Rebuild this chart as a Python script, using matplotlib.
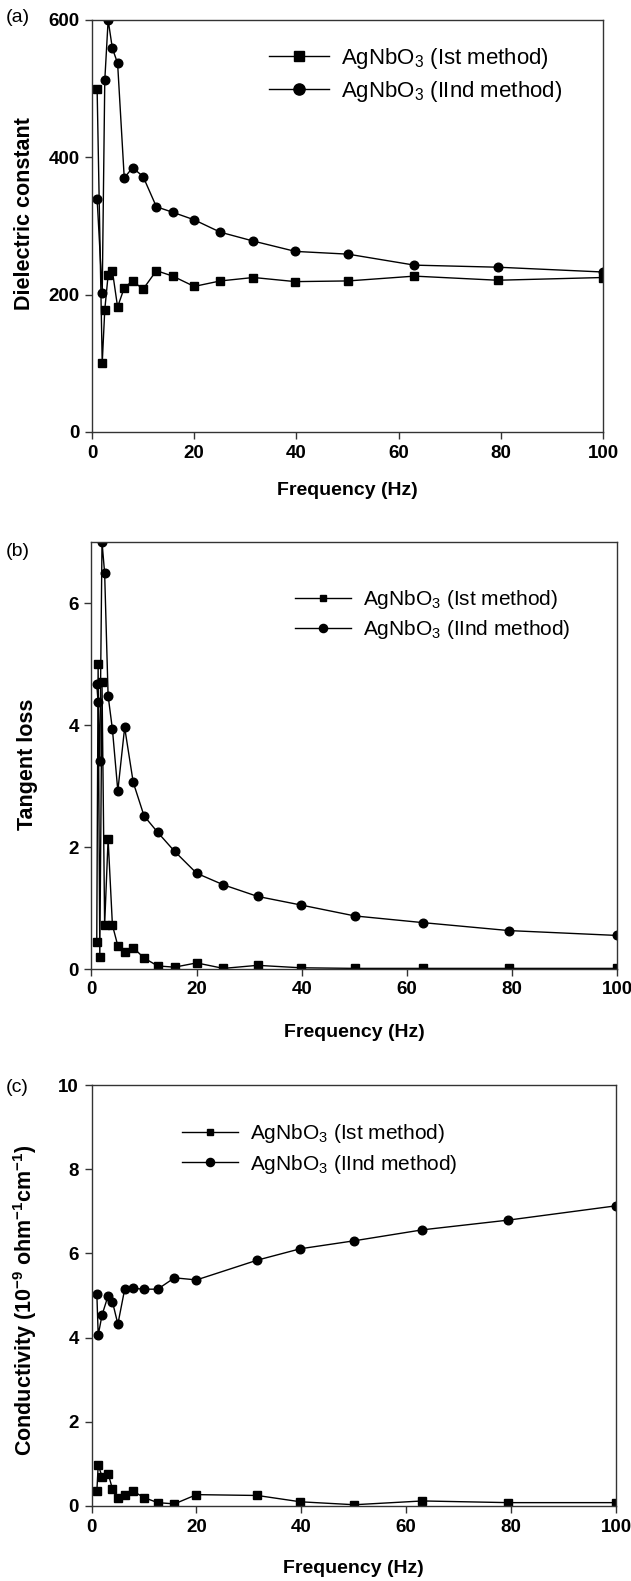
import matplotlib
matplotlib.use("Agg")
import matplotlib.pyplot as plt

plt.rcParams['font.family'] = ['Liberation Sans', 'DejaVu Sans']
plt.rcParams['mathtext.default'] = 'regular'

# (a) dielectric constant
freq_a = [1, 2, 2.5, 3.16, 3.98, 5.01, 6.31, 7.94, 10, 12.6, 15.8, 20, 25.1,
          31.6, 39.8, 50.1, 63.1, 79.4, 100]
diel_1st = [500, 100, 178, 229, 235, 182, 210, 220, 208, 235, 227, 212, 220,
            225, 219, 220, 227, 221, 225]
diel_2nd = [340, 202, 512, 600, 559, 537, 370, 385, 372, 328, 320, 309, 291,
            278, 263, 259, 243, 240, 233]

# (b) tangent loss
freq_b = [1, 1.26, 1.58, 2, 2.5, 3.16, 3.98, 5.01, 6.31, 7.94, 10, 12.6, 15.8,
          20, 25.1, 31.6, 39.8, 50.1, 63.1, 79.4, 100]
tan_1st = [0.44, 5.0, 0.2, 4.7, 0.72, 2.13, 0.72, 0.38, 0.28, 0.35, 0.18, 0.05,
           0.03, 0.1, 0.01, 0.06, 0.02, 0.01, 0.01, 0.01, 0.01]
tan_2nd = [4.67, 4.37, 3.41, 7.0, 6.49, 4.48, 3.93, 2.92, 3.96, 3.06, 2.51, 2.24,
           1.93, 1.57, 1.38, 1.19, 1.05, 0.87, 0.76, 0.63, 0.55]

# (c) conductivity
freq_c = [1, 1.26, 2, 3.16, 3.98, 5.01, 6.31, 7.94, 10, 12.6, 15.8, 20, 31.6,
          39.8, 50.1, 63.1, 79.4, 100]
cond_1st = [0.35, 0.97, 0.7, 0.77, 0.4, 0.2, 0.25, 0.35, 0.2, 0.08, 0.05, 0.27,
            0.25, 0.1, 0.03, 0.12, 0.08, 0.08]
cond_2nd = [5.04, 4.06, 4.54, 5.0, 4.85, 4.32, 5.15, 5.17, 5.15, 5.15, 5.42, 5.37,
            5.84, 6.11, 6.30, 6.56, 6.79, 7.13]

labels = ['AgNbO$_3$ (Ist method)', 'AgNbO$_3$ (IInd method)']
W, H = 631, 1581


def make_axes(fig, left, right, top, bottom):
    return fig.add_axes([left / W, 1 - bottom / H, (right - left) / W,
                         (bottom - top) / H])


def style_axes(ax, ylim, yticks, ylabel, ylab_x, ylab_y, xlab_y, leg_xy,
               leg_size, mscale):
    ax.set_xlim(0, 100)
    ax.set_ylim(*ylim)
    ax.set_xticks(range(0, 101, 20))
    ax.set_yticks(yticks)
    for s in ax.spines.values():
        s.set_linewidth(1.0)
        s.set_color('#333333')
    ax.tick_params(direction='out', length=5, width=1.0, color='#333333',
                   labelsize=13.5, pad=4, top=False, right=False)
    for lab in ax.get_xticklabels() + ax.get_yticklabels():
        lab.set_fontweight('bold')
    ax.set_xlabel('Frequency (Hz)', fontsize=14, fontweight='bold')
    ax.xaxis.set_label_coords(0.5, xlab_y)
    ax.set_ylabel(ylabel, fontsize=15.5, fontweight='bold')
    ax.yaxis.set_label_coords(ylab_x, ylab_y)
    ax.legend(loc='center left', bbox_to_anchor=leg_xy, frameon=False,
              fontsize=leg_size, handlelength=2.7, handletextpad=0.55,
              labelspacing=0.36, borderpad=0, borderaxespad=0,
              markerscale=mscale)


def plot_pair(ax, fx, y1, fx2, y2):
    ax.plot(fx, y1, color='black', lw=1.0, marker='s', ms=5.2,
            label=labels[0])
    ax.plot(fx2, y2, color='black', lw=1.0, marker='o', ms=6.2,
            label=labels[1])


fig = plt.figure(figsize=(W / 100, H / 100), dpi=100)

ax_a = make_axes(fig, 92, 603, 20, 432)
plot_pair(ax_a, freq_a, diel_1st, freq_a, diel_2nd)
style_axes(ax_a, (0, 600), [0, 200, 400, 600], 'Dielectric constant',
           -0.112, 0.53, -0.122, (0.346, 0.866), 16, 1.3)

ax_b = make_axes(fig, 91.5, 617, 542, 969)
plot_pair(ax_b, freq_b, tan_1st, freq_b, tan_2nd)
style_axes(ax_b, (0, 7.0), [0, 2, 4, 6], 'Tangent loss',
           -0.102, 0.48, -0.128, (0.387, 0.830), 15, 0.95)

ax_c = make_axes(fig, 91.6, 616, 1085, 1506)
plot_pair(ax_c, freq_c, cond_1st, freq_c, cond_2nd)
style_axes(ax_c, (0, 10), [0, 2, 4, 6, 8, 10],
           'Conductivity (10$^{-9}$ ohm$^{-1}$cm$^{-1}$)',
           -0.1, 0.49, -0.128, (0.172, 0.848), 15, 0.95)

for txt, y in [('(a)', 18), ('(b)', 552), ('(c)', 1087)]:
    fig.text(6 / W, 1 - y / H, txt, fontsize=14, va='center', ha='left')

fig.savefig('out.png', dpi=100)
plt.close(fig)
